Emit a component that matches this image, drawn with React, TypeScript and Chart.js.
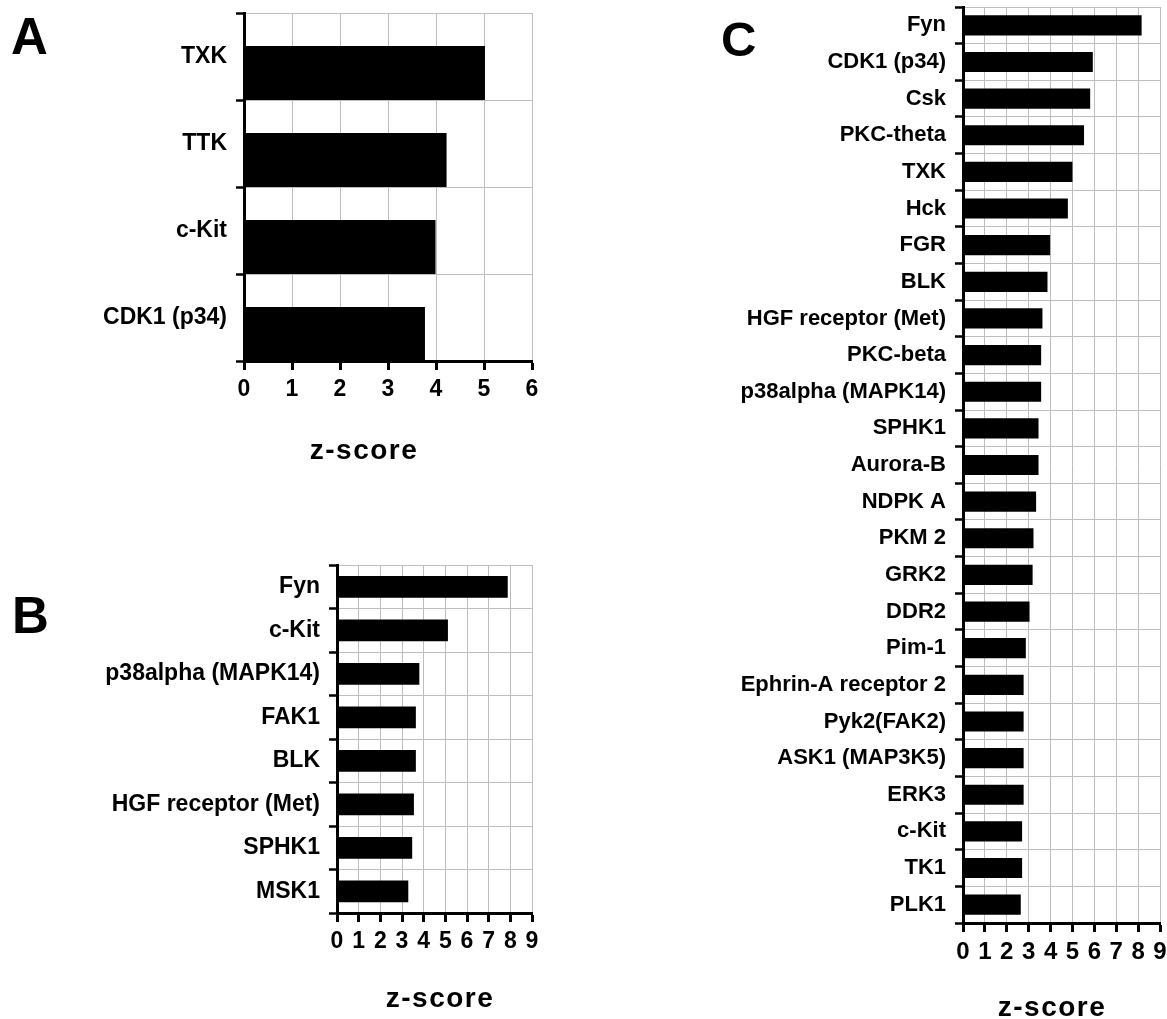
import React, { useEffect, useRef } from 'react';
import { Chart, registerables } from 'chart.js';

Chart.register(...registerables);

const FONT = '"Liberation Sans", Arial, Helvetica, sans-serif';
const NARROW = '"Liberation Sans Narrow", "Arial Narrow", "Liberation Sans", Arial, sans-serif';

// ---- Panel A ----
const labelsA = ['TXK', 'TTK', 'c-Kit', 'CDK1 (p34)'];
const valuesA = [5.02, 4.22, 3.99, 3.77];
const maxA = 6;

// ---- Panel B ----
const labelsB = ['Fyn', 'c-Kit', 'p38alpha (MAPK14)', 'FAK1', 'BLK', 'HGF receptor (Met)', 'SPHK1', 'MSK1'];
const valuesB = [7.88, 5.12, 3.8, 3.64, 3.64, 3.55, 3.47, 3.29];
const maxB = 9;

// ---- Panel C ----
const labelsC = [
  'Fyn', 'CDK1 (p34)', 'Csk', 'PKC-theta', 'TXK', 'Hck', 'FGR', 'BLK',
  'HGF receptor (Met)', 'PKC-beta', 'p38alpha (MAPK14)', 'SPHK1', 'Aurora-B',
  'NDPK A', 'PKM 2', 'GRK2', 'DDR2', 'Pim-1', 'Ephrin-A receptor 2',
  'Pyk2(FAK2)', 'ASK1 (MAP3K5)', 'ERK3', 'c-Kit', 'TK1', 'PLK1',
];
const valuesC = [
  8.16, 5.93, 5.81, 5.53, 5.0, 4.79, 3.98, 3.86, 3.63, 3.57, 3.57, 3.45, 3.45,
  3.34, 3.22, 3.18, 3.04, 2.87, 2.77, 2.77, 2.77, 2.77, 2.7, 2.7, 2.64,
];
const maxC = 9;

const axisTitle = 'z-score';

type PanelProps = {
  labels: string[];
  values: number[];
  max: number;
  box: { left: number; top: number; width: number; height: number };
  area: { left: number; top: number; right: number; bottom: number };
  labelSize: number;
  tickSize: number;
  tickFont: string;
  barPct: number;
  bottomAligned?: boolean;
  title: { x: number; y: number };
};

function Panel(p: PanelProps) {
  const ref = useRef<HTMLCanvasElement | null>(null);
  useEffect(() => {
    const canvas = ref.current;
    if (!canvas) return;
    const { box, area } = p;
    const yWidth = area.left - box.left;
    const xHeight = 60;
    const padTop = area.top - box.top;
    const padRight = box.left + box.width - area.right;
    const padBottom = box.top + box.height - area.bottom - xHeight;

    const titlePlugin = {
      id: 'zTitle',
      afterDraw(chart: any) {
        const ctx = chart.ctx;
        ctx.save();
        ctx.font = `bold 28px ${FONT}`;
        try { (ctx as any).letterSpacing = '1.5px'; } catch (e) {}
        ctx.textAlign = 'center';
        ctx.textBaseline = 'alphabetic';
        ctx.fillStyle = '#000';
        ctx.fillText(axisTitle, p.title.x - box.left, p.title.y - box.top);
        ctx.restore();
      },
    };

    const datasets: any[] = [];
    if (p.bottomAligned) {
      datasets.push({
        data: p.labels.map(() => null),
        backgroundColor: 'rgba(0,0,0,0)',
        categoryPercentage: 0.759,
        barPercentage: 1.635,
      });
      datasets.push({
        data: p.values,
        backgroundColor: '#000',
        borderWidth: 0,
        categoryPercentage: 0.759,
        barPercentage: 1.635,
      });
    } else {
      datasets.push({
        data: p.values,
        backgroundColor: '#000',
        borderWidth: 0,
        categoryPercentage: 1,
        barPercentage: p.barPct,
      });
    }

    const chart = new Chart(canvas, {
      type: 'bar',
      data: { labels: p.labels, datasets },
      options: {
        indexAxis: 'y',
        animation: false,
        responsive: false,
        maintainAspectRatio: false,
        devicePixelRatio: 1,
        layout: { padding: { left: 0, top: padTop, right: padRight, bottom: padBottom } },
        plugins: { legend: { display: false }, tooltip: { enabled: false }, title: { display: false } },
        scales: {
          x: {
            type: 'linear',
            min: 0,
            max: p.max,
            ticks: {
              stepSize: 1,
              autoSkip: false,
              maxRotation: 0,
              padding: 6,
              color: '#000',
              font: { family: p.tickFont, size: p.tickSize, weight: 'bold' },
            },
            grid: {
              color: '#bdbdbd',
              lineWidth: 1,
              drawTicks: true,
              tickLength: 9,
              tickColor: '#000',
              tickWidth: 3,
            },
            border: { color: '#000', width: 3 },
            afterFit: (s: any) => {
              s.height = xHeight;
              s.paddingLeft = 0;
              s.paddingRight = 0;
            },
          },
          y: {
            type: 'category',
            ticks: {
              autoSkip: false,
              padding: 9,
              color: '#000',
              font: { family: FONT, size: p.labelSize, weight: 'bold' },
            },
            grid: {
              offset: true,
              color: '#bdbdbd',
              lineWidth: 1,
              drawTicks: true,
              tickLength: 8,
              tickColor: '#000',
              tickWidth: 2.5,
            },
            border: { color: '#000', width: 3 },
            afterFit: (s: any) => {
              s.width = yWidth;
              s.paddingTop = 0;
              s.paddingBottom = 0;
            },
          },
        },
      } as any,
      plugins: [titlePlugin],
    });
    return () => chart.destroy();
  }, []);

  return (
    <canvas
      ref={ref}
      width={p.box.width}
      height={p.box.height}
      style={{
        position: 'absolute',
        left: p.box.left,
        top: p.box.top,
        width: p.box.width,
        height: p.box.height,
      }}
    />
  );
}

const letterStyle = (left: number, top: number, size: number): React.CSSProperties => ({
  position: 'absolute',
  left,
  top,
  fontFamily: FONT,
  fontWeight: 'bold',
  fontSize: size,
  lineHeight: 1,
  color: '#000',
});

export default function App() {
  return (
    <div
      style={{
        position: 'absolute',
        left: 0,
        top: 0,
        width: 1167,
        height: 1019,
        background: '#fff',
        overflow: 'hidden',
      }}
    >
      <Panel
        labels={labelsA}
        values={valuesA}
        max={maxA}
        box={{ left: 0, top: 0, width: 560, height: 480 }}
        area={{ left: 244, top: 13, right: 532, bottom: 361 }}
        labelSize={23}
        tickSize={23}
        tickFont={FONT}
        barPct={0.62}
        bottomAligned
        title={{ x: 364, y: 459 }}
      />
      <Panel
        labels={labelsB}
        values={valuesB}
        max={maxB}
        box={{ left: 0, top: 540, width: 560, height: 479 }}
        area={{ left: 337, top: 565, right: 532, bottom: 913 }}
        labelSize={23}
        tickSize={23}
        tickFont={NARROW}
        barPct={0.5}
        title={{ x: 440, y: 1007 }}
      />
      <Panel
        labels={labelsC}
        values={valuesC}
        max={maxC}
        box={{ left: 700, top: 0, width: 467, height: 1019 }}
        area={{ left: 963, top: 7, right: 1160, bottom: 923 }}
        labelSize={22}
        tickSize={24}
        tickFont={NARROW}
        barPct={0.55}
        title={{ x: 1052, y: 1016 }}
      />
      <div style={letterStyle(11, 11, 51)}>A</div>
      <div style={letterStyle(12, 590, 51)}>B</div>
      <div style={letterStyle(721, 15, 49)}>C</div>
    </div>
  );
}
